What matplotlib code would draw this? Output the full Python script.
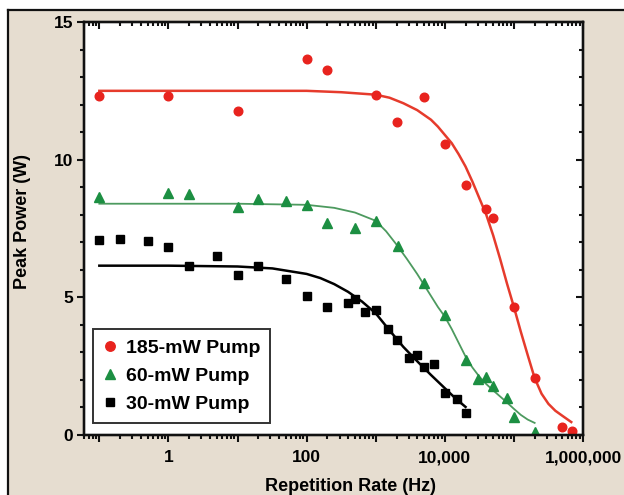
import matplotlib
matplotlib.use("Agg")
import matplotlib.pyplot as plt
from matplotlib.ticker import FixedLocator, LogLocator, NullFormatter, MultipleLocator, FuncFormatter
from matplotlib.lines import Line2D
from matplotlib.patches import Rectangle

# ---------------- data ----------------
red_x = [0.1, 1, 10, 100, 200, 1000, 2000, 5000, 10000, 20000, 40000, 50000,
         100000, 200000, 500000, 700000]
red_y = [12.33, 12.33, 11.78, 13.67, 13.27, 12.36, 11.38, 12.29, 10.58, 9.09,
         8.2, 7.89, 4.65, 2.07, 0.29, 0.15]

green_x = [0.1, 1, 2, 10, 20, 50, 100, 200, 500, 1000, 2100, 5000, 10000,
           20000, 30000, 40000, 50000, 80000, 100000, 200000]
green_y = [8.65, 8.8, 8.76, 8.29, 8.58, 8.51, 8.36, 7.7, 7.53, 7.78, 6.87,
           5.53, 4.36, 2.73, 2.04, 2.11, 1.78, 1.35, 0.65, 0.1]

black_x = [0.1, 0.2, 0.5, 1, 2, 5, 10, 20, 50, 100, 200, 400, 500, 700, 1000,
           1500, 2000, 3000, 4000, 5000, 7000, 10000, 15000, 20000]
black_y = [7.09, 7.13, 7.05, 6.84, 6.15, 6.49, 5.82, 6.15, 5.67, 5.05, 4.65,
           4.8, 4.95, 4.47, 4.55, 3.85, 3.45, 2.8, 2.91, 2.47, 2.58, 1.53,
           1.31, 0.8]

# fitted curves
red_fit_x = [0.1, 1, 10, 100, 316, 1000, 1585, 2512, 3981, 6310, 7943, 10000,
             12589, 15849, 19953, 25119, 31623, 39811, 50119, 63096, 79433,
             100000, 125893, 158489, 199526, 251189, 316228, 398107, 501187,
             676083]
red_fit_y = [12.5, 12.5, 12.5, 12.5, 12.45, 12.36, 12.25, 12.05, 11.8, 11.45,
             11.2, 10.9, 10.6, 10.2, 9.75, 9.2, 8.6, 8.0, 7.25, 6.4, 5.5,
             4.65, 3.75, 2.9, 2.07, 1.5, 1.13, 0.88, 0.7, 0.47]

green_fit_x = [0.1, 1, 10, 100, 251, 501, 1000, 1413, 1995, 2818, 3981, 5623,
               7943, 10000, 12589, 15849, 19953, 25119, 31623, 39811, 50119,
               63096, 79433, 100000, 125893, 158489, 199526]
green_fit_y = [8.4, 8.4, 8.4, 8.36, 8.25, 8.08, 7.78, 7.4, 6.92, 6.4, 5.85,
               5.25, 4.65, 4.3, 3.85, 3.35, 2.85, 2.45, 2.12, 1.85, 1.62,
               1.4, 1.18, 0.95, 0.73, 0.56, 0.44]

black_fit_x = [0.1, 1, 10, 32, 100, 158, 251, 398, 631, 1000, 1585, 2512,
               3981, 6310, 10000, 14125, 19953]
black_fit_y = [6.15, 6.15, 6.12, 6.05, 5.85, 5.7, 5.48, 5.2, 4.85, 4.42,
               3.8, 3.2, 2.68, 2.18, 1.7, 1.34, 1.02]

labels = ["185-mW Pump", "60-mW Pump", "30-mW Pump"]
x_major = [0.1, 1, 10, 100, 1000, 10000, 100000, 1000000]
x_ticks = [1, 100, 10000, 1000000]
x_ticklabels = ["1", "100", "10,000", "1,000,000"]
y_ticks = [0, 5, 10, 15]

# ---------------- styling ----------------
RED = "#e8231e"
RED_LINE = "#e63b2c"
GREEN = "#1c8f42"
GREEN_LINE = "#4d9a5f"
BG = "#e6ddd0"
DARK = "#111111"

plt.rcParams["font.family"] = ["Liberation Sans", "DejaVu Sans"]
plt.rcParams["font.weight"] = "bold"

fig = plt.figure(figsize=(6.24, 4.95), dpi=100, facecolor="white")
fig.patches.append(Rectangle((7.5 / 624, 0), 1, 1 - 9.5 / 495,
                             transform=fig.transFigure, facecolor=BG,
                             edgecolor="none", zorder=-10))
fig.lines.append(Line2D([7.5 / 624, 1], [1 - 9.5 / 495] * 2,
                        transform=fig.transFigure, color=DARK, lw=1.6))
fig.lines.append(Line2D([7.5 / 624] * 2, [0, 1 - 9.5 / 495],
                        transform=fig.transFigure, color=DARK, lw=1.6))

ax = fig.add_axes([84 / 624, 1 - 435 / 495, (583 - 84) / 624, (435 - 22) / 495])
ax.set_facecolor("white")

ax.plot(red_fit_x, red_fit_y, color=RED_LINE, lw=1.8, zorder=2)
ax.plot(green_fit_x, green_fit_y, color=GREEN_LINE, lw=1.3, zorder=2)
ax.plot(black_fit_x, black_fit_y, color="black", lw=1.8, zorder=2)

ax.plot(red_x, red_y, "o", color=RED, ms=6.2, mec=RED, label=labels[0], zorder=3)
ax.plot(green_x, green_y, "^", color=GREEN, ms=6.5, mec=GREEN, label=labels[1], zorder=3)
ax.plot(black_x, black_y, "s", color="black", ms=5.2, label=labels[2], zorder=3)

ax.set_xscale("log")
ax.set_xlim(0.06, 1000000)
ax.set_ylim(0, 15)

lab_map = dict(zip(x_ticks, x_ticklabels))
ax.xaxis.set_major_locator(FixedLocator(x_major))
ax.xaxis.set_minor_locator(LogLocator(base=10, subs=range(2, 10), numticks=20))
ax.xaxis.set_major_formatter(FuncFormatter(lambda v, p: lab_map.get(round(v), "")))
ax.xaxis.set_minor_formatter(NullFormatter())

ax.set_yticks(y_ticks)
ax.yaxis.set_minor_locator(MultipleLocator(1))

for s in ax.spines.values():
    s.set_linewidth(1.6)
    s.set_color(DARK)

ax.tick_params(which="both", direction="out", top=False, right=False,
               width=1.5, color=DARK, labelsize=12.5)
ax.tick_params(axis="x", pad=6)
ax.tick_params(axis="y", pad=3)
ax.tick_params(which="major", length=5)
ax.tick_params(which="minor", length=3)

# mirrored ticks pointing inward on top and right
axt = ax.twiny()
axt.set_xscale("log")
axt.set_xlim(ax.get_xlim())
axt.xaxis.set_major_locator(FixedLocator(x_major))
axt.xaxis.set_minor_locator(LogLocator(base=10, subs=range(2, 10), numticks=20))
axt.tick_params(which="both", direction="in", width=1.5, color=DARK,
                labeltop=False)
axt.tick_params(which="major", length=5)
axt.tick_params(which="minor", length=3)
axr = ax.twinx()
axr.set_ylim(ax.get_ylim())
axr.set_yticks(y_ticks)
axr.yaxis.set_minor_locator(MultipleLocator(1))
axr.tick_params(which="both", direction="in", width=1.5, color=DARK,
                labelright=False)
axr.tick_params(which="major", length=5)
axr.tick_params(which="minor", length=3)
for a in (axt, axr):
    for s in a.spines.values():
        s.set_linewidth(1.6)
        s.set_color(DARK)

ax.set_xlabel("Repetition Rate (Hz)", fontsize=13, fontweight="bold")
ax.xaxis.set_label_coords(0.535, -0.105)
ax.set_ylabel("Peak Power (W)", fontsize=13, fontweight="bold")
ax.yaxis.set_label_coords(-0.106, 0.516)

leg = ax.legend(loc="lower left", bbox_to_anchor=(0.018, 0.029), borderaxespad=0,
                fancybox=False, edgecolor="#333333", framealpha=1,
                fontsize=14, handlelength=0.8, handletextpad=0.4,
                borderpad=0.5, labelspacing=0.55, markerscale=1.1)
leg.get_frame().set_linewidth(1.4)
leg.set_zorder(10)

fig.savefig("out.png", dpi=100, facecolor=fig.get_facecolor())
